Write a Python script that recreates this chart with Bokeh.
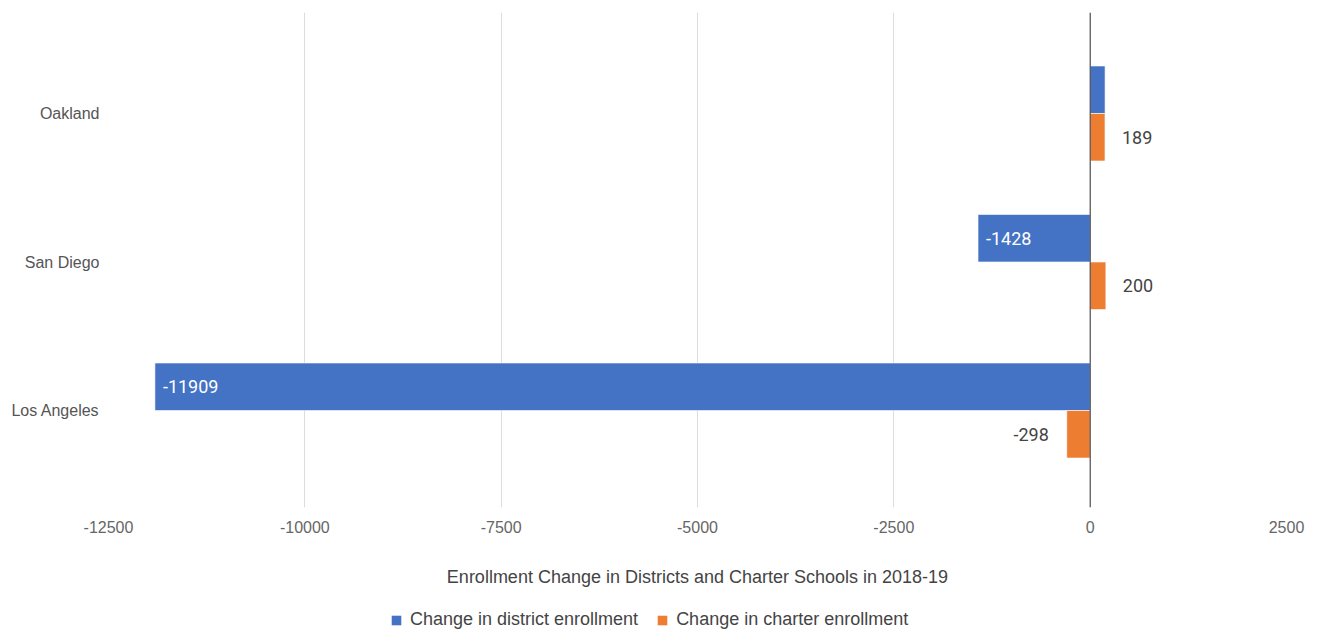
from bokeh.plotting import figure
from bokeh.layouts import column
from bokeh.models import (ColumnDataSource, Range1d, FixedTicker, Span, Legend, LegendItem,
                          LabelSet)
from bokeh.core.properties import value
from bokeh.embed import file_html
from bokeh.resources import INLINE

cities = ["Oakland", "San Diego", "Los Angeles"]
district = [190, -1428, -11909]
charter = [189, 200, -298]
x_ticks = [-12500, -10000, -7500, -5000, -2500, 0, 2500]
series_names = ["Change in district enrollment", "Change in charter enrollment"]

BLUE = "#4472C4"
ORANGE = "#ED7D31"

n = len(cities)
ypos = [n - 1 - i for i in range(n)]  # Oakland at top

p = figure(width=1318, height=600, output_backend="svg", toolbar_location=None,
           x_range=Range1d(-12500, 2500), y_range=Range1d(-0.653, 2.68),
           min_border_left=108, min_border_right=32, min_border_top=12, min_border_bottom=93)
p.outline_line_color = None
p.background_fill_color = "white"
p.border_fill_color = "white"

bar_h = 0.32
off = 0.16
dsrc = ColumnDataSource(dict(
    y=[y + off for y in ypos], v=district,
    lab=[str(v) if abs(v) > 1000 else "" for v in district]))
csrc = ColumnDataSource(dict(
    y=[y - off for y in ypos], v=charter,
    lab=[str(v) for v in charter]))

p.hbar(y="y", left=0, right="v", height=bar_h, source=dsrc, fill_color=BLUE,
       line_color="white", line_width=0.6)
p.hbar(y="y", left=0, right="v", height=bar_h, source=csrc, fill_color=ORANGE,
       line_color="white", line_width=0.6)

# labels
p.add_layout(LabelSet(x="v", y="y", text="lab", source=dsrc, x_offset=8,
                      text_align="left", text_baseline="middle", text_color="white",
                      text_font=value("Roboto"), text_font_size="18px"))
pos = ColumnDataSource(dict(
    y=[csrc.data["y"][i] for i in range(n) if charter[i] >= 0],
    v=[charter[i] for i in range(n) if charter[i] >= 0],
    lab=[str(charter[i]) for i in range(n) if charter[i] >= 0]))
neg = ColumnDataSource(dict(
    y=[csrc.data["y"][i] for i in range(n) if charter[i] < 0],
    v=[charter[i] for i in range(n) if charter[i] < 0],
    lab=[str(charter[i]) for i in range(n) if charter[i] < 0]))
p.add_layout(LabelSet(x="v", y="y", text="lab", source=pos, x_offset=17,
                      text_align="left", text_baseline="middle", text_color="#444444",
                      text_font=value("Roboto"), text_font_size="18px"))
p.add_layout(LabelSet(x="v", y="y", text="lab", source=neg, x_offset=-18,
                      text_align="right", text_baseline="middle", text_color="#444444",
                      text_font=value("Roboto"), text_font_size="18px"))

p.add_layout(Span(location=0, dimension="height", line_color="#333333", line_width=1))

# x axis
p.xaxis.ticker = FixedTicker(ticks=x_ticks)
p.xaxis.major_label_overrides = {t: str(t) for t in x_ticks}
p.xaxis.axis_line_color = None
p.xaxis.major_tick_line_color = None
p.xaxis.minor_tick_line_color = None
p.xaxis.major_label_text_color = "#666666"
p.xaxis.major_label_text_font = "Liberation Sans"
p.xaxis.major_label_text_font_size = "16px"
p.xaxis.major_label_standoff = 7
p.xaxis.axis_label = "Enrollment Change in Districts and Charter Schools in 2018-19"
p.xaxis.axis_label_text_font = "Liberation Sans"
p.xaxis.axis_label_text_font_style = "normal"
p.xaxis.axis_label_text_font_size = "18px"
p.xaxis.axis_label_text_color = "#444444"
p.xaxis.axis_label_standoff = 31

# y axis
p.yaxis.ticker = FixedTicker(ticks=ypos)
p.yaxis.major_label_overrides = {y: c for y, c in zip(ypos, cities)}
p.yaxis.axis_line_color = None
p.yaxis.major_tick_line_color = None
p.yaxis.minor_tick_line_color = None
p.yaxis.major_label_text_color = "#555555"
p.yaxis.major_label_text_font = "Liberation Sans"
p.yaxis.major_label_text_font_size = "16px"
p.yaxis.major_label_standoff = 3

p.xgrid.grid_line_color = "#dddddd"
p.xgrid.ticker = FixedTicker(ticks=x_ticks)
p.ygrid.grid_line_color = None

# legend strip below the chart (proxy renderers share the data but lie outside this strip's view)
lg = figure(width=1318, height=31, output_backend="svg", toolbar_location=None,
            x_axis_type=None, y_axis_type=None,
            x_range=Range1d(-12500, 2500), y_range=Range1d(10, 11),
            min_border_left=0, min_border_right=0, min_border_top=0, min_border_bottom=0)
lg.outline_line_color = None
lg.grid.grid_line_color = None
lr1 = lg.hbar(y="y", left=0, right="v", height=bar_h, source=dsrc, fill_color=BLUE, line_color=None)
lr2 = lg.hbar(y="y", left=0, right="v", height=bar_h, source=csrc, fill_color=ORANGE, line_color=None)
legend = Legend(items=[LegendItem(label=series_names[0], renderers=[lr1]),
                       LegendItem(label=series_names[1], renderers=[lr2])],
                orientation="horizontal", location=(282, 1),
                label_text_font="Liberation Sans", label_text_font_size="18px",
                label_text_color="#444444", glyph_width=12, glyph_height=12,
                spacing=18, label_standoff=8, border_line_color=None,
                background_fill_alpha=0, margin=0, padding=0)
lg.add_layout(legend, "center")

layout = column(p, lg, spacing=0)
open("out.html", "w").write(file_html(layout, INLINE))
